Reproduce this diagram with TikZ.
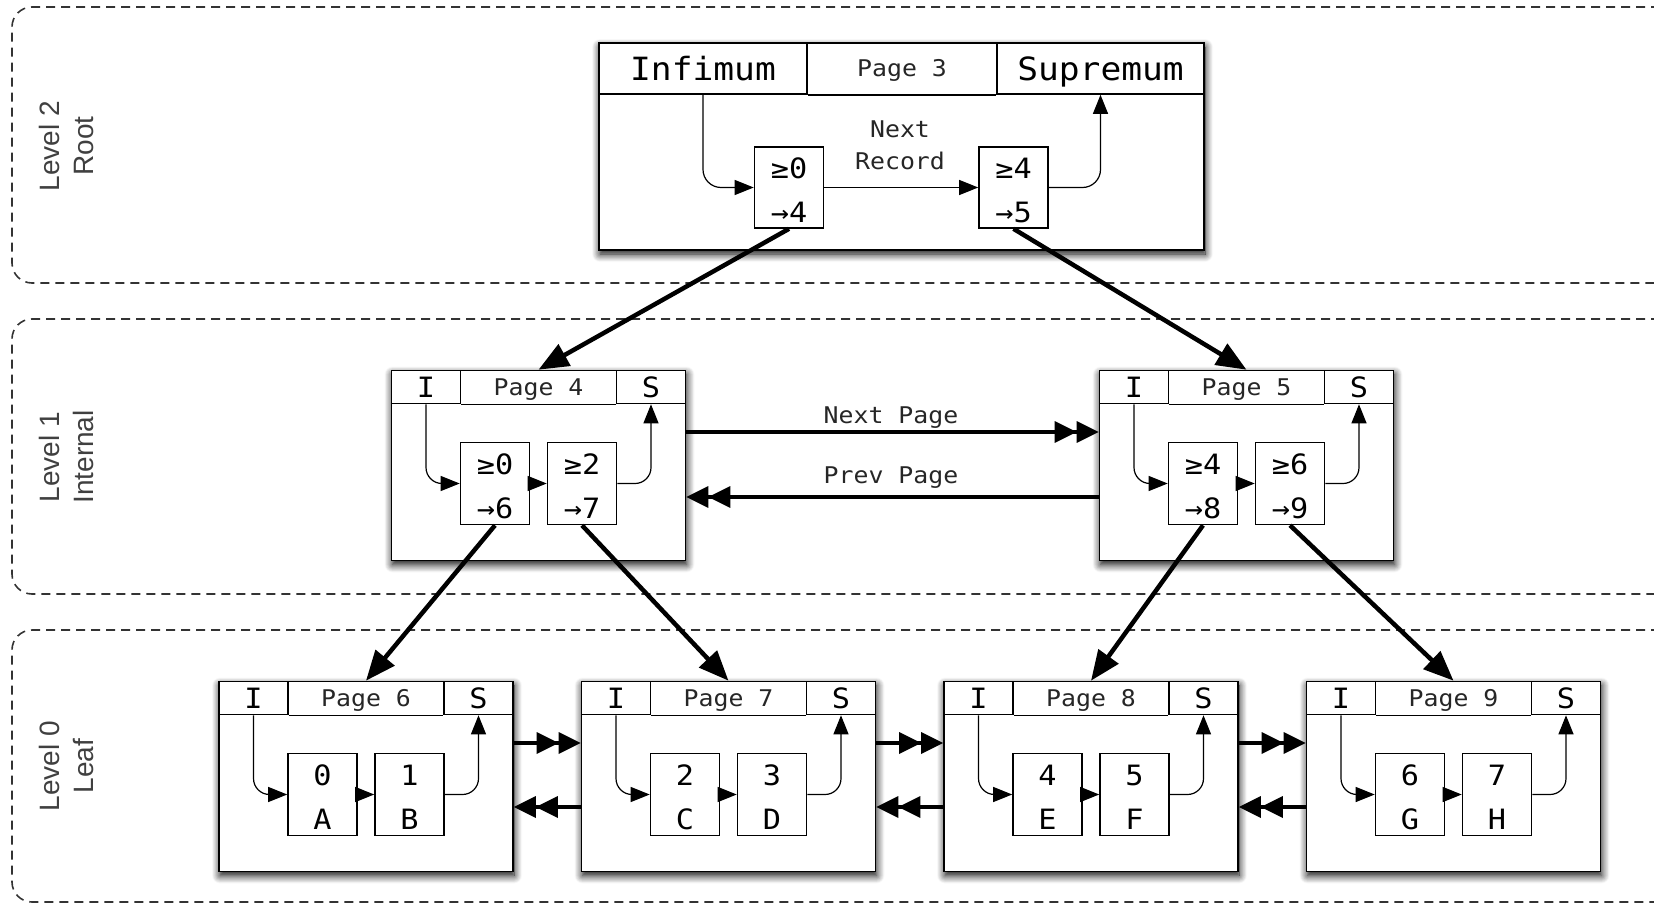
\documentclass[tikz,border=0pt]{standalone}
\usepackage{fontspec}
\newfontfamily\monof[FakeStretch=1.08]{DejaVu Sans Mono}
\newfontfamily\sansf{Liberation Sans}
\usetikzlibrary{arrows.meta,shadows.blur,calc}
\tikzset{
  boxline/.style={line width=1.6pt},
  page/.style={draw, line width=1.6pt, fill=white, minimum width=294pt, minimum height=190pt, inner sep=0pt,
    blur shadow={shadow blur steps=10, shadow xshift=1pt, shadow yshift=-4pt, shadow blur radius=8pt, shadow opacity=100}},
  hdr/.style={draw, line width=1.6pt, minimum width=69pt, minimum height=33pt, inner sep=0pt,
    font=\monof\fontsize{28}{30}\selectfont, text height=20.4pt, text depth=0pt},
  bighdr/.style={hdr, minimum height=51pt, font=\monof\fontsize{32}{34}\selectfont, text height=23.3pt},
  plbl/.style={inner sep=0pt, font=\monof\fontsize{23}{26}\selectfont, text height=16.8pt, text depth=0pt, text=black!85},
  mlbl/.style={inner sep=0pt, align=center, font=\monof\fontsize{23}{31.5}\selectfont, text=black!85},
  rec/.style={draw, line width=1.6pt, fill=white, minimum width=69pt, minimum height=82pt, inner sep=0pt},
  rtxt/.style={inner sep=0pt, align=center, font=\monof\fontsize{28}{44}\selectfont},
  lvl/.style={inner sep=0pt, align=center, rotate=90, font=\sansf\fontsize{28}{34}\selectfont, text=black!75},
  thinarr/.style={line width=1.2pt, -{Triangle[length=19pt,width=15pt]}},
  thickarr/.style={line width=4.5pt, -{Triangle[length=30pt,width=24pt]}},
  dblarr/.style={line width=3.5pt, -{Triangle[length=22pt,width=21pt]Triangle[length=22pt,width=21pt]}},
  band/.style={draw=black!80, line width=1.6pt, dash pattern=on 9pt off 6pt, rounded corners=20pt}
}
\newcommand\bpg[6]{%
  \node[page] (#1) at (#2,#3) {};
  \node[hdr, anchor=north west] (#1i) at (#1.north west) {I};
  \node[hdr, anchor=north east] (#1s) at (#1.north east) {S};
  \draw[boxline] (#1i.south east) -- (#1s.south west);
  \node[plbl] (#1t) at ($(#1i.east)!0.5!(#1s.west)$) {Page #4};
  \node[rec] (#1a) at ($(#1.center)+(-43.5,18)$) {};
  \node[rec] (#1b) at ($(#1.center)+(43.5,18)$) {};
  \node[rtxt] (#1at) at ($(#1a.center)+(0,3)$) {#5};
  \node[rtxt] (#1bt) at ($(#1b.center)+(0,3)$) {#6};
  \draw[thinarr, rounded corners=16pt] (#1i.south) |- (#1a.west);
  \draw[thinarr] (#1a.east) -- (#1b.west);
  \draw[thinarr, rounded corners=16pt] (#1b.east) -| (#1s.south);
}
\begin{document}
\begin{tikzpicture}[x=1pt,y=-1pt]
\useasboundingbox (0,0) rectangle (1654,904);
% bands
\draw[band] (1660,7) -- (12,7) -- (12,283) -- (1660,283);
\draw[band] (1660,319) -- (12,319) -- (12,594) -- (1660,594);
\draw[band] (1660,630) -- (12,630) -- (12,902) -- (1660,902);
\node[lvl] (l2) at (66,146) {Level 2\\Root};
\node[lvl] (l1) at (66,457) {Level 1\\Internal};
\node[lvl] (l0) at (66,766) {Level 0\\Leaf};
% root page
\node[page, minimum width=605pt, minimum height=207pt] (p3) at (901.5,146.5) {};
\node[bighdr, minimum width=208pt, anchor=north west] (inf) at (p3.north west) {Infimum};
\node[bighdr, minimum width=207pt, anchor=north east] (sup) at (p3.north east) {Supremum};
\draw[boxline] (inf.south east) -- (sup.south west);
\node[plbl] (p3t) at ($(inf.east)!0.5!(sup.west)$) {Page 3};
\node[rec, minimum height=81pt] (p3a) at (789,187.5) {};
\node[rec, minimum height=81pt] (p3b) at (1013.5,187.5) {};
\node[rtxt] (p3at) at ($(p3a.center)+(0,3)$) {≥0\\→4};
\node[rtxt] (p3bt) at ($(p3b.center)+(0,3)$) {≥4\\→5};
\node[mlbl] (nrec) at (900,145.5) {Next\\Record};
\draw[thinarr, rounded corners=18pt] (inf.south) |- (p3a.west);
\draw[thinarr] (p3a.east) -- (p3b.west);
\draw[thinarr, rounded corners=18pt] (p3b.east) -| (sup.south);
% internal pages
\bpg{p4}{538.5}{465.5}{4}{≥0\\→6}{≥2\\→7}
\bpg{p5}{1246.5}{465.5}{5}{≥4\\→8}{≥6\\→9}
% leaf pages
\bpg{p6}{366}{776.5}{6}{0\\A}{1\\B}
\bpg{p7}{728.5}{776.5}{7}{2\\C}{3\\D}
\bpg{p8}{1091}{776.5}{8}{4\\E}{5\\F}
\bpg{p9}{1453.5}{776.5}{9}{6\\G}{7\\H}
% page links
\draw[dblarr] ($(p4.east)+(0,-33.5)$) -- ($(p5.west)+(0,-33.5)$);
\draw[dblarr] ($(p5.west)+(0,31.5)$) -- ($(p4.east)+(0,31.5)$);
\node[plbl] (npl) at (891,415) {Next Page};
\node[plbl] (ppl) at (891,475) {Prev Page};
\draw[dblarr] ($(p6.east)+(0,-33.5)$) -- ($(p7.west)+(0,-33.5)$);
\draw[dblarr] ($(p7.west)+(0,30.5)$) -- ($(p6.east)+(0,30.5)$);
\draw[dblarr] ($(p7.east)+(0,-33.5)$) -- ($(p8.west)+(0,-33.5)$);
\draw[dblarr] ($(p8.west)+(0,30.5)$) -- ($(p7.east)+(0,30.5)$);
\draw[dblarr] ($(p8.east)+(0,-33.5)$) -- ($(p9.west)+(0,-33.5)$);
\draw[dblarr] ($(p9.west)+(0,30.5)$) -- ($(p8.east)+(0,30.5)$);
% child pointers
\draw[thickarr] (p3a.south) -- (p4.north);
\draw[thickarr] (p3b.south) -- (p5.north);
\draw[thickarr] (p4a.south) -- (p6.north);
\draw[thickarr] (p4b.south) -- (p7.north);
\draw[thickarr] (p5a.south) -- (p8.north);
\draw[thickarr] (p5b.south) -- (p9.north);
\end{tikzpicture}
\end{document}
